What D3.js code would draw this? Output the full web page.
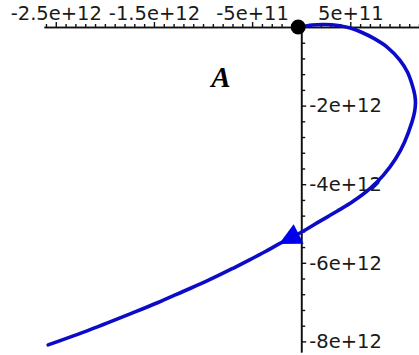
<!DOCTYPE html>
<html>
<head>
<meta charset="utf-8">
<script src="https://cdn.jsdelivr.net/npm/d3@7"></script>
<style>
  html, body { margin: 0; padding: 0; background: #fff; }
  svg { display: block; }
  .tick text { font-family: "DejaVu Sans", sans-serif; font-size: 19.5px; fill: #1a1a1a; }
</style>
</head>
<body>
<svg id="chart" width="419" height="355"></svg>
<script>
// Trajectory (x, y) in metres, starting at the origin
const trajX = [0, 0.11e12, 0.24e12, 0.375e12, 0.50e12, 0.62e12, 0.74e12, 0.875e12, 1.005e12, 1.082e12,
  1.128e12, 1.157e12, 1.164e12, 1.155e12, 1.128e12, 1.052e12, 0.960e12, 0.838e12, 0.706e12, 0.533e12,
  0.365e12, 0.192e12, 0.059e12, -0.084e12, -0.226e12, -0.369e12, -0.521e12, -0.694e12, -0.949e12, -1.203e12,
  -1.458e12, -1.713e12, -2.150e12, -2.578e12];
const trajY = [0, 0.05e12, 0.064e12, 0.04e12, -0.025e12, -0.14e12, -0.29e12, -0.51e12, -0.84e12, -1.145e12,
  -1.45e12, -1.73e12, -1.93e12, -2.16e12, -2.42e12, -2.93e12, -3.36e12, -3.77e12, -4.10e12, -4.43e12,
  -4.69e12, -4.94e12, -5.14e12, -5.34e12, -5.52e12, -5.72e12, -5.92e12, -6.14e12, -6.45e12, -6.73e12,
  -7.01e12, -7.27e12, -7.70e12, -8.09e12];
// index of the trajectory point where the direction arrow sits
const arrowIndex = 24;

// visible ranges
const xView = [-2.62e12, 1.2e12];
const yView = [0, -8.27e12];

// labelled ticks
const xMajorTicks = [-2.5e12, -1.5e12, -5e11, 5e11];
const xTickLabels = ["-2.5e+12", "-1.5e+12", "-5e+11", "5e+11"];
const yMajorTicks = [-2e12, -4e12, -6e12, -8e12];
const yTickLabels = ["-2e+12", "-4e+12", "-6e+12", "-8e+12"];
const plotLabel = "A";

const svg = d3.select("#chart");
const x = d3.scaleLinear().domain(xView).range([44, 419]);
const y = d3.scaleLinear().domain(yView).range([27, 352]);

const axisColor = "#111";
const curveColor = "#0c0cc8";
const arrowColor = "#0000ee";

// minor tick positions
const xMinor = d3.range(-26, 13).map(k => k * 1e11).filter(v => xMajorTicks.indexOf(v) < 0);
const yMinor = d3.range(0, 21).map(k => -k * 4e11).filter(v => yMajorTicks.every(m => Math.abs(m - v) > 1));

// x axis (crosses at y = 0), ticks pointing up
const gx = svg.append("g").attr("transform", `translate(0,${y(0)})`);
gx.append("g").call(d3.axisTop(x).tickValues(xMinor).tickSize(3).tickSizeOuter(0).tickFormat(""));
gx.append("g").call(d3.axisTop(x).tickValues(xMajorTicks).tickSize(5).tickPadding(2.5).tickSizeOuter(0)
  .tickFormat((d, i) => xTickLabels[i]));

// y axis (crosses at x = 0), ticks pointing right
const gy = svg.append("g").attr("transform", `translate(${x(0)},0)`);
gy.append("g").call(d3.axisRight(y).tickValues(yMinor).tickSize(4).tickSizeOuter(0).tickFormat(""));
gy.append("g").call(d3.axisRight(y).tickValues(yMajorTicks).tickSize(5).tickPadding(3).tickSizeOuter(0)
  .tickFormat((d, i) => yTickLabels[i]));

svg.selectAll(".domain").attr("stroke", axisColor).attr("stroke-width", 1.6);
svg.selectAll(".tick line").attr("stroke", axisColor).attr("stroke-width", 1.4);
svg.selectAll(".tick text").attr("fill", "#1a1a1a");

// trajectory
const pts = trajX.map((v, i) => [v, trajY[i]]);
const line = d3.line().x(d => x(d[0])).y(d => y(d[1])).curve(d3.curveCatmullRom.alpha(0.5));
svg.append("path")
  .attr("d", line(pts))
  .attr("fill", "none")
  .attr("stroke", curveColor)
  .attr("stroke-width", 3.6)
  .attr("stroke-linecap", "round")
  .attr("stroke-linejoin", "round");

// direction arrow along the trajectory
const tip = [x(trajX[arrowIndex]), y(trajY[arrowIndex])];
const prev = [x(trajX[arrowIndex - 1]), y(trajY[arrowIndex - 1])];
const dx = tip[0] - prev[0], dy = tip[1] - prev[1];
const len = Math.hypot(dx, dy);
const ux = dx / len, uy = dy / len;
const headLen = 22, headHalf = 11;
const bx = tip[0] - ux * headLen, by = tip[1] - uy * headLen;
svg.append("path")
  .attr("d", `M${tip[0]},${tip[1]}L${bx - uy * headHalf},${by + ux * headHalf}L${bx + uy * headHalf},${by - ux * headHalf}Z`)
  .attr("fill", arrowColor);

// start point
svg.append("circle")
  .attr("cx", x(trajX[0]) - 3)
  .attr("cy", y(trajY[0]))
  .attr("r", 7.5)
  .attr("fill", "#000");

// plot label
svg.append("text")
  .attr("x", 221)
  .attr("y", 87)
  .attr("text-anchor", "middle")
  .attr("font-family", "'Liberation Serif', 'Times New Roman', serif")
  .attr("font-style", "italic")
  .attr("font-weight", "bold")
  .attr("font-size", 29)
  .attr("fill", "#000")
  .text(plotLabel);
</script>
</body>
</html>
